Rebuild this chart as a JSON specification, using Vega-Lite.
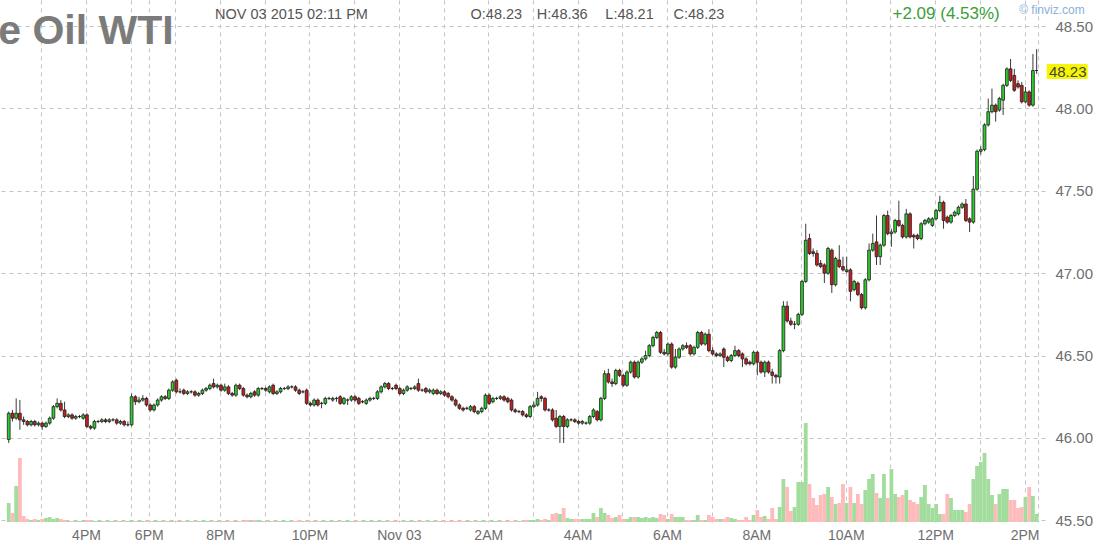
{
"$schema": "https://vega.github.io/schema/vega-lite/v6.json",
"width": 1045, "height": 522,
"autosize": "none",
"padding": {"left": 0, "top": 0, "right": 55, "bottom": 28},
"background": "white",
"config": {"view": {"stroke": null}, "font": "Liberation Sans"},
"data": {"values": [
{"i":1,"o":45.99,"h":46.16,"l":45.97,"c":46.15,"v":1900},
{"i":2,"o":46.15,"h":46.17,"l":46.10,"c":46.12,"v":900},
{"i":3,"o":46.12,"h":46.24,"l":46.11,"c":46.15,"v":3600},
{"i":4,"o":46.15,"h":46.23,"l":46.05,"c":46.11,"v":6400},
{"i":5,"o":46.11,"h":46.13,"l":46.08,"c":46.10,"v":600},
{"i":6,"o":46.10,"h":46.11,"l":46.07,"c":46.08,"v":300},
{"i":7,"o":46.08,"h":46.11,"l":46.07,"c":46.10,"v":200},
{"i":8,"o":46.10,"h":46.11,"l":46.07,"c":46.08,"v":300},
{"i":9,"o":46.08,"h":46.10,"l":46.07,"c":46.09,"v":200},
{"i":10,"o":46.09,"h":46.10,"l":46.05,"c":46.07,"v":300},
{"i":11,"o":46.07,"h":46.10,"l":46.06,"c":46.09,"v":400},
{"i":12,"o":46.09,"h":46.13,"l":46.08,"c":46.12,"v":500},
{"i":13,"o":46.12,"h":46.20,"l":46.11,"c":46.19,"v":300},
{"i":14,"o":46.19,"h":46.24,"l":46.18,"c":46.21,"v":400},
{"i":15,"o":46.21,"h":46.23,"l":46.16,"c":46.17,"v":300},
{"i":16,"o":46.17,"h":46.22,"l":46.12,"c":46.13,"v":200},
{"i":17,"o":46.13,"h":46.15,"l":46.12,"c":46.14,"v":100},
{"i":18,"o":46.14,"h":46.15,"l":46.11,"c":46.12,"v":100},
{"i":19,"o":46.12,"h":46.14,"l":46.11,"c":46.13,"v":100},
{"i":20,"o":46.13,"h":46.14,"l":46.12,"c":46.13,"v":100},
{"i":21,"o":46.12,"h":46.15,"l":46.11,"c":46.14,"v":100},
{"i":22,"o":46.14,"h":46.15,"l":46.06,"c":46.07,"v":200},
{"i":23,"o":46.07,"h":46.08,"l":46.05,"c":46.06,"v":200},
{"i":24,"o":46.06,"h":46.11,"l":46.05,"c":46.10,"v":100},
{"i":25,"o":46.10,"h":46.11,"l":46.09,"c":46.10,"v":100},
{"i":26,"o":46.10,"h":46.12,"l":46.09,"c":46.11,"v":100},
{"i":27,"o":46.11,"h":46.12,"l":46.09,"c":46.10,"v":100},
{"i":28,"o":46.10,"h":46.12,"l":46.09,"c":46.11,"v":100},
{"i":29,"o":46.11,"h":46.12,"l":46.10,"c":46.11,"v":100},
{"i":30,"o":46.11,"h":46.12,"l":46.08,"c":46.09,"v":100},
{"i":31,"o":46.09,"h":46.11,"l":46.08,"c":46.10,"v":100},
{"i":32,"o":46.10,"h":46.11,"l":46.07,"c":46.08,"v":100},
{"i":33,"o":46.08,"h":46.10,"l":46.07,"c":46.08,"v":100},
{"i":34,"o":46.08,"h":46.27,"l":46.07,"c":46.25,"v":200},
{"i":35,"o":46.25,"h":46.26,"l":46.20,"c":46.22,"v":100},
{"i":36,"o":46.22,"h":46.25,"l":46.21,"c":46.23,"v":100},
{"i":37,"o":46.23,"h":46.26,"l":46.22,"c":46.24,"v":100},
{"i":38,"o":46.24,"h":46.25,"l":46.19,"c":46.20,"v":100},
{"i":39,"o":46.20,"h":46.21,"l":46.16,"c":46.17,"v":100},
{"i":40,"o":46.17,"h":46.21,"l":46.16,"c":46.20,"v":100},
{"i":41,"o":46.20,"h":46.24,"l":46.19,"c":46.23,"v":100},
{"i":42,"o":46.23,"h":46.26,"l":46.22,"c":46.25,"v":100},
{"i":43,"o":46.25,"h":46.26,"l":46.23,"c":46.24,"v":100},
{"i":44,"o":46.24,"h":46.30,"l":46.23,"c":46.29,"v":100},
{"i":45,"o":46.29,"h":46.35,"l":46.28,"c":46.34,"v":100},
{"i":46,"o":46.35,"h":46.36,"l":46.27,"c":46.28,"v":100},
{"i":47,"o":46.28,"h":46.30,"l":46.27,"c":46.28,"v":100},
{"i":48,"o":46.29,"h":46.30,"l":46.26,"c":46.27,"v":100},
{"i":49,"o":46.27,"h":46.29,"l":46.26,"c":46.28,"v":100},
{"i":50,"o":46.28,"h":46.29,"l":46.27,"c":46.28,"v":100},
{"i":51,"o":46.28,"h":46.29,"l":46.25,"c":46.26,"v":100},
{"i":52,"o":46.26,"h":46.28,"l":46.25,"c":46.27,"v":100},
{"i":53,"o":46.27,"h":46.30,"l":46.26,"c":46.29,"v":100},
{"i":54,"o":46.29,"h":46.31,"l":46.28,"c":46.30,"v":100},
{"i":55,"o":46.30,"h":46.33,"l":46.29,"c":46.32,"v":100},
{"i":56,"o":46.33,"h":46.36,"l":46.30,"c":46.31,"v":100},
{"i":57,"o":46.31,"h":46.33,"l":46.30,"c":46.32,"v":100},
{"i":58,"o":46.32,"h":46.33,"l":46.28,"c":46.29,"v":100},
{"i":59,"o":46.29,"h":46.33,"l":46.28,"c":46.31,"v":100},
{"i":60,"o":46.31,"h":46.32,"l":46.26,"c":46.27,"v":100},
{"i":61,"o":46.27,"h":46.28,"l":46.25,"c":46.26,"v":100},
{"i":62,"o":46.26,"h":46.33,"l":46.25,"c":46.32,"v":100},
{"i":63,"o":46.32,"h":46.33,"l":46.29,"c":46.30,"v":100},
{"i":64,"o":46.30,"h":46.31,"l":46.25,"c":46.26,"v":100},
{"i":65,"o":46.26,"h":46.27,"l":46.24,"c":46.25,"v":200},
{"i":66,"o":46.25,"h":46.28,"l":46.24,"c":46.27,"v":200},
{"i":67,"o":46.28,"h":46.29,"l":46.25,"c":46.26,"v":200},
{"i":68,"o":46.26,"h":46.31,"l":46.25,"c":46.30,"v":200},
{"i":69,"o":46.30,"h":46.31,"l":46.29,"c":46.30,"v":100},
{"i":70,"o":46.30,"h":46.31,"l":46.28,"c":46.29,"v":100},
{"i":71,"o":46.28,"h":46.32,"l":46.27,"c":46.31,"v":100},
{"i":72,"o":46.32,"h":46.33,"l":46.26,"c":46.27,"v":100},
{"i":73,"o":46.27,"h":46.29,"l":46.26,"c":46.28,"v":100},
{"i":74,"o":46.28,"h":46.31,"l":46.27,"c":46.30,"v":100},
{"i":75,"o":46.30,"h":46.31,"l":46.29,"c":46.30,"v":100},
{"i":76,"o":46.30,"h":46.32,"l":46.29,"c":46.31,"v":100},
{"i":77,"o":46.31,"h":46.32,"l":46.30,"c":46.31,"v":100},
{"i":78,"o":46.31,"h":46.32,"l":46.28,"c":46.29,"v":100},
{"i":79,"o":46.29,"h":46.30,"l":46.26,"c":46.27,"v":200},
{"i":80,"o":46.28,"h":46.29,"l":46.27,"c":46.28,"v":100},
{"i":81,"o":46.29,"h":46.30,"l":46.20,"c":46.21,"v":100},
{"i":82,"o":46.21,"h":46.22,"l":46.19,"c":46.20,"v":100},
{"i":83,"o":46.20,"h":46.24,"l":46.19,"c":46.23,"v":100},
{"i":84,"o":46.23,"h":46.24,"l":46.19,"c":46.20,"v":100},
{"i":85,"o":46.21,"h":46.22,"l":46.18,"c":46.21,"v":100},
{"i":86,"o":46.21,"h":46.25,"l":46.20,"c":46.24,"v":100},
{"i":87,"o":46.24,"h":46.25,"l":46.23,"c":46.24,"v":100},
{"i":88,"o":46.23,"h":46.25,"l":46.22,"c":46.24,"v":100},
{"i":89,"o":46.24,"h":46.25,"l":46.22,"c":46.24,"v":100},
{"i":90,"o":46.25,"h":46.26,"l":46.20,"c":46.21,"v":100},
{"i":91,"o":46.21,"h":46.25,"l":46.20,"c":46.24,"v":100},
{"i":92,"o":46.23,"h":46.24,"l":46.20,"c":46.23,"v":100},
{"i":93,"o":46.23,"h":46.26,"l":46.22,"c":46.25,"v":100},
{"i":94,"o":46.25,"h":46.26,"l":46.22,"c":46.23,"v":100},
{"i":95,"o":46.24,"h":46.25,"l":46.20,"c":46.21,"v":100},
{"i":96,"o":46.22,"h":46.23,"l":46.21,"c":46.22,"v":100},
{"i":97,"o":46.21,"h":46.24,"l":46.20,"c":46.23,"v":100},
{"i":98,"o":46.23,"h":46.25,"l":46.22,"c":46.24,"v":100},
{"i":99,"o":46.24,"h":46.25,"l":46.23,"c":46.24,"v":100},
{"i":100,"o":46.24,"h":46.29,"l":46.23,"c":46.28,"v":100},
{"i":101,"o":46.28,"h":46.32,"l":46.27,"c":46.31,"v":100},
{"i":102,"o":46.31,"h":46.34,"l":46.30,"c":46.33,"v":100},
{"i":103,"o":46.33,"h":46.34,"l":46.29,"c":46.30,"v":100},
{"i":104,"o":46.30,"h":46.31,"l":46.29,"c":46.30,"v":100},
{"i":105,"o":46.32,"h":46.33,"l":46.29,"c":46.30,"v":100},
{"i":106,"o":46.30,"h":46.31,"l":46.26,"c":46.27,"v":100},
{"i":107,"o":46.27,"h":46.30,"l":46.26,"c":46.29,"v":100},
{"i":108,"o":46.29,"h":46.32,"l":46.28,"c":46.31,"v":100},
{"i":109,"o":46.30,"h":46.31,"l":46.29,"c":46.30,"v":100},
{"i":110,"o":46.30,"h":46.32,"l":46.29,"c":46.31,"v":100},
{"i":111,"o":46.33,"h":46.36,"l":46.28,"c":46.29,"v":100},
{"i":112,"o":46.29,"h":46.30,"l":46.28,"c":46.29,"v":100},
{"i":113,"o":46.30,"h":46.31,"l":46.27,"c":46.28,"v":100},
{"i":114,"o":46.28,"h":46.30,"l":46.27,"c":46.29,"v":100},
{"i":115,"o":46.27,"h":46.30,"l":46.26,"c":46.29,"v":100},
{"i":116,"o":46.29,"h":46.30,"l":46.26,"c":46.27,"v":100},
{"i":117,"o":46.27,"h":46.29,"l":46.26,"c":46.28,"v":100},
{"i":118,"o":46.28,"h":46.29,"l":46.25,"c":46.26,"v":100},
{"i":119,"o":46.27,"h":46.28,"l":46.24,"c":46.25,"v":100},
{"i":120,"o":46.25,"h":46.26,"l":46.22,"c":46.23,"v":100},
{"i":121,"o":46.23,"h":46.24,"l":46.19,"c":46.20,"v":100},
{"i":122,"o":46.20,"h":46.21,"l":46.17,"c":46.18,"v":100},
{"i":123,"o":46.18,"h":46.19,"l":46.16,"c":46.17,"v":100},
{"i":124,"o":46.18,"h":46.19,"l":46.17,"c":46.18,"v":100},
{"i":125,"o":46.17,"h":46.20,"l":46.16,"c":46.19,"v":100},
{"i":126,"o":46.19,"h":46.20,"l":46.15,"c":46.16,"v":100},
{"i":127,"o":46.15,"h":46.17,"l":46.14,"c":46.16,"v":100},
{"i":128,"o":46.16,"h":46.19,"l":46.15,"c":46.18,"v":100},
{"i":129,"o":46.18,"h":46.27,"l":46.17,"c":46.26,"v":100},
{"i":130,"o":46.26,"h":46.27,"l":46.20,"c":46.21,"v":100},
{"i":131,"o":46.22,"h":46.25,"l":46.21,"c":46.24,"v":100},
{"i":132,"o":46.24,"h":46.25,"l":46.23,"c":46.24,"v":100},
{"i":133,"o":46.24,"h":46.26,"l":46.23,"c":46.25,"v":100},
{"i":134,"o":46.25,"h":46.26,"l":46.22,"c":46.23,"v":100},
{"i":135,"o":46.24,"h":46.25,"l":46.21,"c":46.22,"v":100},
{"i":136,"o":46.23,"h":46.24,"l":46.16,"c":46.17,"v":100},
{"i":137,"o":46.17,"h":46.18,"l":46.15,"c":46.16,"v":100},
{"i":138,"o":46.16,"h":46.17,"l":46.15,"c":46.16,"v":100},
{"i":139,"o":46.16,"h":46.17,"l":46.13,"c":46.14,"v":100},
{"i":140,"o":46.14,"h":46.15,"l":46.12,"c":46.13,"v":200},
{"i":141,"o":46.13,"h":46.20,"l":46.12,"c":46.19,"v":200},
{"i":142,"o":46.19,"h":46.22,"l":46.18,"c":46.20,"v":200},
{"i":143,"o":46.20,"h":46.28,"l":46.19,"c":46.24,"v":300},
{"i":144,"o":46.25,"h":46.26,"l":46.22,"c":46.24,"v":200},
{"i":145,"o":46.24,"h":46.25,"l":46.16,"c":46.17,"v":300},
{"i":146,"o":46.17,"h":46.18,"l":46.16,"c":46.17,"v":200},
{"i":147,"o":46.17,"h":46.18,"l":46.10,"c":46.11,"v":800},
{"i":148,"o":46.12,"h":46.17,"l":46.06,"c":46.07,"v":900},
{"i":149,"o":46.07,"h":46.14,"l":45.97,"c":46.13,"v":800},
{"i":150,"o":46.13,"h":46.14,"l":45.97,"c":46.07,"v":1400},
{"i":151,"o":46.07,"h":46.12,"l":46.06,"c":46.11,"v":400},
{"i":152,"o":46.11,"h":46.12,"l":46.10,"c":46.11,"v":300},
{"i":153,"o":46.11,"h":46.12,"l":46.09,"c":46.10,"v":300},
{"i":154,"o":46.10,"h":46.11,"l":46.08,"c":46.09,"v":300},
{"i":155,"o":46.09,"h":46.11,"l":46.08,"c":46.10,"v":300},
{"i":156,"o":46.09,"h":46.10,"l":46.08,"c":46.09,"v":300},
{"i":157,"o":46.09,"h":46.14,"l":46.08,"c":46.13,"v":300},
{"i":158,"o":46.13,"h":46.18,"l":46.12,"c":46.17,"v":900},
{"i":159,"o":46.16,"h":46.17,"l":46.10,"c":46.11,"v":500},
{"i":160,"o":46.11,"h":46.25,"l":46.10,"c":46.24,"v":1400},
{"i":161,"o":46.24,"h":46.41,"l":46.23,"c":46.39,"v":900},
{"i":162,"o":46.39,"h":46.42,"l":46.33,"c":46.34,"v":700},
{"i":163,"o":46.34,"h":46.36,"l":46.31,"c":46.33,"v":400},
{"i":164,"o":46.33,"h":46.42,"l":46.32,"c":46.41,"v":500},
{"i":165,"o":46.41,"h":46.42,"l":46.37,"c":46.38,"v":700},
{"i":166,"o":46.38,"h":46.39,"l":46.31,"c":46.32,"v":300},
{"i":167,"o":46.32,"h":46.41,"l":46.31,"c":46.40,"v":300},
{"i":168,"o":46.40,"h":46.47,"l":46.39,"c":46.46,"v":500},
{"i":169,"o":46.46,"h":46.47,"l":46.36,"c":46.37,"v":500},
{"i":170,"o":46.37,"h":46.47,"l":46.36,"c":46.46,"v":500},
{"i":171,"o":46.46,"h":46.49,"l":46.45,"c":46.48,"v":400},
{"i":172,"o":46.48,"h":46.53,"l":46.47,"c":46.50,"v":500},
{"i":173,"o":46.50,"h":46.57,"l":46.49,"c":46.56,"v":400},
{"i":174,"o":46.56,"h":46.62,"l":46.55,"c":46.61,"v":500},
{"i":175,"o":46.61,"h":46.65,"l":46.60,"c":46.64,"v":400},
{"i":176,"o":46.64,"h":46.65,"l":46.51,"c":46.52,"v":800},
{"i":177,"o":46.52,"h":46.54,"l":46.50,"c":46.51,"v":700},
{"i":178,"o":46.51,"h":46.58,"l":46.50,"c":46.57,"v":300},
{"i":179,"o":46.57,"h":46.58,"l":46.42,"c":46.43,"v":800},
{"i":180,"o":46.43,"h":46.54,"l":46.42,"c":46.49,"v":500},
{"i":181,"o":46.49,"h":46.55,"l":46.48,"c":46.54,"v":500},
{"i":182,"o":46.54,"h":46.57,"l":46.53,"c":46.56,"v":500},
{"i":183,"o":46.56,"h":46.58,"l":46.54,"c":46.55,"v":200},
{"i":184,"o":46.56,"h":46.57,"l":46.50,"c":46.51,"v":200},
{"i":185,"o":46.51,"h":46.56,"l":46.50,"c":46.55,"v":200},
{"i":186,"o":46.55,"h":46.65,"l":46.54,"c":46.64,"v":700},
{"i":187,"o":46.64,"h":46.65,"l":46.56,"c":46.57,"v":200},
{"i":188,"o":46.57,"h":46.64,"l":46.56,"c":46.63,"v":200},
{"i":189,"o":46.63,"h":46.66,"l":46.52,"c":46.53,"v":700},
{"i":190,"o":46.53,"h":46.55,"l":46.50,"c":46.51,"v":500},
{"i":191,"o":46.51,"h":46.52,"l":46.49,"c":46.50,"v":300},
{"i":192,"o":46.50,"h":46.52,"l":46.49,"c":46.51,"v":300},
{"i":193,"o":46.54,"h":46.55,"l":46.43,"c":46.49,"v":300},
{"i":194,"o":46.49,"h":46.50,"l":46.46,"c":46.47,"v":500},
{"i":195,"o":46.47,"h":46.51,"l":46.46,"c":46.50,"v":400},
{"i":196,"o":46.50,"h":46.56,"l":46.49,"c":46.53,"v":300},
{"i":197,"o":46.53,"h":46.54,"l":46.49,"c":46.50,"v":200},
{"i":198,"o":46.51,"h":46.52,"l":46.43,"c":46.48,"v":200},
{"i":199,"o":46.48,"h":46.49,"l":46.44,"c":46.45,"v":500},
{"i":200,"o":46.46,"h":46.47,"l":46.44,"c":46.45,"v":200},
{"i":201,"o":46.45,"h":46.53,"l":46.44,"c":46.52,"v":700},
{"i":202,"o":46.52,"h":46.53,"l":46.38,"c":46.46,"v":1200},
{"i":203,"o":46.46,"h":46.47,"l":46.39,"c":46.40,"v":500},
{"i":204,"o":46.40,"h":46.47,"l":46.37,"c":46.46,"v":600},
{"i":205,"o":46.46,"h":46.47,"l":46.39,"c":46.40,"v":300},
{"i":206,"o":46.40,"h":46.42,"l":46.33,"c":46.38,"v":1400},
{"i":207,"o":46.38,"h":46.39,"l":46.33,"c":46.37,"v":300},
{"i":208,"o":46.37,"h":46.54,"l":46.33,"c":46.53,"v":1500},
{"i":209,"o":46.53,"h":46.83,"l":46.52,"c":46.80,"v":4300},
{"i":210,"o":46.80,"h":46.83,"l":46.70,"c":46.71,"v":3500},
{"i":211,"o":46.71,"h":46.73,"l":46.68,"c":46.69,"v":1100},
{"i":212,"o":46.69,"h":46.71,"l":46.66,"c":46.69,"v":1500},
{"i":213,"o":46.69,"h":46.76,"l":46.68,"c":46.75,"v":4000},
{"i":214,"o":46.75,"h":46.96,"l":46.74,"c":46.95,"v":4000},
{"i":215,"o":46.95,"h":47.30,"l":46.94,"c":47.20,"v":9900},
{"i":216,"o":47.21,"h":47.24,"l":47.11,"c":47.12,"v":3800},
{"i":217,"o":47.13,"h":47.15,"l":47.10,"c":47.12,"v":2400},
{"i":218,"o":47.12,"h":47.14,"l":47.04,"c":47.05,"v":1700},
{"i":219,"o":47.06,"h":47.08,"l":47.03,"c":47.04,"v":2700},
{"i":220,"o":47.05,"h":47.06,"l":46.94,"c":47.00,"v":2800},
{"i":221,"o":47.00,"h":47.16,"l":46.99,"c":47.15,"v":3500},
{"i":222,"o":47.14,"h":47.15,"l":46.88,"c":46.93,"v":2500},
{"i":223,"o":46.93,"h":47.10,"l":46.92,"c":47.09,"v":1800},
{"i":224,"o":47.08,"h":47.17,"l":47.03,"c":47.04,"v":1900},
{"i":225,"o":47.04,"h":47.10,"l":47.01,"c":47.02,"v":3800},
{"i":226,"o":47.01,"h":47.10,"l":47.00,"c":47.02,"v":1900},
{"i":227,"o":47.02,"h":47.03,"l":46.83,"c":46.89,"v":3500},
{"i":228,"o":46.90,"h":46.96,"l":46.89,"c":46.95,"v":1900},
{"i":229,"o":46.94,"h":46.95,"l":46.86,"c":46.87,"v":2800},
{"i":230,"o":46.87,"h":46.88,"l":46.78,"c":46.79,"v":1800},
{"i":231,"o":46.79,"h":46.97,"l":46.78,"c":46.96,"v":3200},
{"i":232,"o":46.96,"h":47.18,"l":46.95,"c":47.14,"v":4300},
{"i":233,"o":47.14,"h":47.24,"l":47.13,"c":47.18,"v":4800},
{"i":234,"o":47.19,"h":47.35,"l":47.05,"c":47.10,"v":2900},
{"i":235,"o":47.10,"h":47.18,"l":47.05,"c":47.17,"v":2400},
{"i":236,"o":47.17,"h":47.36,"l":47.16,"c":47.35,"v":4800},
{"i":237,"o":47.35,"h":47.38,"l":47.23,"c":47.24,"v":2400},
{"i":238,"o":47.24,"h":47.27,"l":47.16,"c":47.25,"v":5300},
{"i":239,"o":47.25,"h":47.33,"l":47.24,"c":47.32,"v":2800},
{"i":240,"o":47.32,"h":47.44,"l":47.28,"c":47.29,"v":2500},
{"i":241,"o":47.29,"h":47.30,"l":47.21,"c":47.22,"v":2700},
{"i":242,"o":47.22,"h":47.39,"l":47.21,"c":47.36,"v":3200},
{"i":243,"o":47.36,"h":47.37,"l":47.21,"c":47.22,"v":2200},
{"i":244,"o":47.23,"h":47.24,"l":47.15,"c":47.22,"v":2000},
{"i":245,"o":47.23,"h":47.24,"l":47.20,"c":47.21,"v":1800},
{"i":246,"o":47.21,"h":47.31,"l":47.20,"c":47.30,"v":2500},
{"i":247,"o":47.30,"h":47.33,"l":47.29,"c":47.32,"v":3700},
{"i":248,"o":47.31,"h":47.34,"l":47.30,"c":47.33,"v":1800},
{"i":249,"o":47.29,"h":47.34,"l":47.28,"c":47.33,"v":1400},
{"i":250,"o":47.33,"h":47.39,"l":47.32,"c":47.38,"v":1800},
{"i":251,"o":47.38,"h":47.47,"l":47.37,"c":47.43,"v":800},
{"i":252,"o":47.43,"h":47.44,"l":47.27,"c":47.32,"v":800},
{"i":253,"o":47.34,"h":47.35,"l":47.30,"c":47.31,"v":2800},
{"i":254,"o":47.31,"h":47.36,"l":47.30,"c":47.35,"v":2400},
{"i":255,"o":47.35,"h":47.38,"l":47.34,"c":47.37,"v":1200},
{"i":256,"o":47.36,"h":47.41,"l":47.35,"c":47.40,"v":1200},
{"i":257,"o":47.40,"h":47.43,"l":47.39,"c":47.42,"v":1200},
{"i":258,"o":47.42,"h":47.45,"l":47.31,"c":47.32,"v":1000},
{"i":259,"o":47.33,"h":47.34,"l":47.25,"c":47.31,"v":1800},
{"i":260,"o":47.31,"h":47.59,"l":47.30,"c":47.51,"v":4300},
{"i":261,"o":47.51,"h":47.75,"l":47.50,"c":47.74,"v":5600},
{"i":262,"o":47.74,"h":47.77,"l":47.72,"c":47.75,"v":6000},
{"i":263,"o":47.75,"h":47.91,"l":47.74,"c":47.90,"v":6900},
{"i":264,"o":47.90,"h":48.06,"l":47.89,"c":47.98,"v":4300},
{"i":265,"o":47.98,"h":48.12,"l":47.97,"c":48.02,"v":2700},
{"i":266,"o":48.02,"h":48.03,"l":47.92,"c":47.98,"v":1800},
{"i":267,"o":47.99,"h":48.07,"l":47.98,"c":48.06,"v":2800},
{"i":268,"o":48.05,"h":48.15,"l":47.96,"c":48.14,"v":3300},
{"i":269,"o":48.14,"h":48.25,"l":48.13,"c":48.24,"v":3300},
{"i":270,"o":48.24,"h":48.30,"l":48.16,"c":48.17,"v":2200},
{"i":271,"o":48.20,"h":48.24,"l":48.10,"c":48.11,"v":2200},
{"i":272,"o":48.15,"h":48.17,"l":48.12,"c":48.13,"v":1400},
{"i":273,"o":48.14,"h":48.16,"l":48.03,"c":48.04,"v":1500},
{"i":274,"o":48.04,"h":48.13,"l":48.03,"c":48.10,"v":2500},
{"i":275,"o":48.10,"h":48.11,"l":48.01,"c":48.02,"v":3500},
{"i":276,"o":48.02,"h":48.33,"l":48.01,"c":48.23,"v":2600},
{"i":277,"o":48.23,"h":48.36,"l":48.21,"c":48.23,"v":800}
]},
"layer": [
 {
  "mark": {"type": "bar", "orient": "vertical", "size": 3.8},
  "encoding": {
   "x": {"field": "i", "type": "quantitative", "scale": {"domain": [0, 277.9], "nice": false, "zero": false},
    "axis": {"orient": "bottom", "title": null,
     "values": [-2.25, 9.75, 21.75, 33.75, 38.6, 45.75, 57.75, 69.75, 81.75, 93.75, 105.75, 117.75, 129.75, 141.75, 153.75, 165.75, 177.75, 189.75, 201.75, 213.75, 225.75, 237.75, 249.75, 261.75, 273.75, 277.4],
     "labelExpr": "datum.value == -2.25 ? '2PM' : datum.value == 21.75 ? '4PM' : datum.value == 38.6 ? '6PM' : datum.value == 57.75 ? '8PM' : datum.value == 81.75 ? '10PM' : datum.value == 105.75 ? 'Nov 03' : datum.value == 129.75 ? '2AM' : datum.value == 153.75 ? '4AM' : datum.value == 177.75 ? '6AM' : datum.value == 201.75 ? '8AM' : datum.value == 225.75 ? '10AM' : datum.value == 249.75 ? '12PM' : datum.value == 273.75 ? '2PM' : ''",
     "grid": true, "gridColor": "#c4c4c4", "gridDash": [4, 4], "gridWidth": 1,
     "domain": false, "ticks": false, "labelFlush": false, "labelOverlap": false, "labelBound": false,
     "labelFont": "Liberation Sans", "labelFontSize": 14, "labelColor": "#6e6e6e", "labelPadding": 6, "labelAlign": "center"}},
   "y": {"field": "v", "type": "quantitative", "scale": {"domain": [0, 52200], "nice": false}, "axis": null},
   "color": {"condition": {"test": "datum.c >= datum.o", "value": "#a3dd9e"}, "value": "#ffbabc"}
  }
 },
 {
  "layer": [
   {
    "mark": {"type": "rule", "color": "#3a3a3a", "strokeWidth": 1},
    "encoding": {
     "x": {"field": "i", "type": "quantitative"},
     "y": {"field": "l", "type": "quantitative", "scale": {"domain": [45.49, 48.658], "nice": false, "zero": false},
      "axis": {"orient": "right", "title": null, "values": [45.5, 46, 46.5, 47, 47.5, 48, 48.5], "format": ".2f",
       "grid": true, "gridColor": "#c4c4c4", "gridDash": [4, 4], "gridWidth": 1,
       "domain": false, "ticks": false, "labelFont": "Liberation Sans", "labelFontSize": 15, "labelColor": "#6e6e6e",
       "labelPadding": 10, "labelAlign": "left", "labelBaseline": "middle", "labelFlush": false, "labelOverlap": false}},
     "y2": {"field": "h"}
    }
   },
   {
    "mark": {"type": "bar", "size": 2.8, "stroke": "#1e1e1e", "strokeWidth": 0.8},
    "encoding": {
     "x": {"field": "i", "type": "quantitative"},
     "y": {"field": "o", "type": "quantitative"},
     "y2": {"field": "c"},
     "fill": {"condition": {"test": "datum.c >= datum.o", "value": "#2fcc2f"}, "value": "#c81e1e"}
    }
   },
   {
    "data": {"values": [{}]},
    "mark": {"type": "text", "text": "Crude Oil WTI", "align": "left", "baseline": "alphabetic", "font": "Liberation Sans", "fontSize": 41, "fontWeight": "bold", "color": "#7b7b7b"},
    "encoding": {"x": {"datum": -27.5, "type": "quantitative"}, "y": {"datum": 48.391, "type": "quantitative"}}
   },
   {
    "data": {"values": [{}]},
    "mark": {"type": "text", "text": "NOV 03 2015 02:11 PM", "align": "left", "baseline": "alphabetic", "font": "Liberation Sans", "fontSize": 14.5, "color": "#555555"},
    "encoding": {"x": {"datum": 56.4, "type": "quantitative"}, "y": {"datum": 48.542, "type": "quantitative"}}
   },
   {
    "data": {"values": [{}]},
    "mark": {"type": "text", "text": "O:48.23", "align": "left", "baseline": "alphabetic", "font": "Liberation Sans", "fontSize": 14.5, "color": "#555555"},
    "encoding": {"x": {"datum": 125.0, "type": "quantitative"}, "y": {"datum": 48.542, "type": "quantitative"}}
   },
   {
    "data": {"values": [{}]},
    "mark": {"type": "text", "text": "H:48.36", "align": "left", "baseline": "alphabetic", "font": "Liberation Sans", "fontSize": 14.5, "color": "#555555"},
    "encoding": {"x": {"datum": 142.8, "type": "quantitative"}, "y": {"datum": 48.542, "type": "quantitative"}}
   },
   {
    "data": {"values": [{}]},
    "mark": {"type": "text", "text": "L:48.21", "align": "left", "baseline": "alphabetic", "font": "Liberation Sans", "fontSize": 14.5, "color": "#555555"},
    "encoding": {"x": {"datum": 161.2, "type": "quantitative"}, "y": {"datum": 48.542, "type": "quantitative"}}
   },
   {
    "data": {"values": [{}]},
    "mark": {"type": "text", "text": "C:48.23", "align": "left", "baseline": "alphabetic", "font": "Liberation Sans", "fontSize": 14.5, "color": "#555555"},
    "encoding": {"x": {"datum": 179.5, "type": "quantitative"}, "y": {"datum": 48.542, "type": "quantitative"}}
   },
   {
    "data": {"values": [{}]},
    "mark": {"type": "text", "text": "+2.09 (4.53%)", "align": "left", "baseline": "alphabetic", "font": "Liberation Sans", "fontSize": 17, "color": "#3a9e3a"},
    "encoding": {"x": {"datum": 238.3, "type": "quantitative"}, "y": {"datum": 48.545, "type": "quantitative"}}
   },
   {
    "data": {"values": [{}]},
    "mark": {"type": "text", "text": "© finviz.com", "align": "left", "baseline": "alphabetic", "font": "Liberation Sans", "fontSize": 12, "color": "#8ab0d6"},
    "encoding": {"x": {"datum": 272.3, "type": "quantitative"}, "y": {"datum": 48.573, "type": "quantitative"}}
   },
   {
    "data": {"values": [{}]},
    "mark": {"type": "rect", "color": "#f6f600"},
    "encoding": {"x": {"datum": 279.7, "type": "quantitative"}, "x2": {"datum": 290.7}, "y": {"datum": 48.269, "type": "quantitative"}, "y2": {"datum": 48.178}}
   },
   {
    "data": {"values": [{}]},
    "mark": {"type": "text", "text": "48.23", "align": "left", "baseline": "middle", "font": "Liberation Sans", "fontSize": 15, "color": "#444444"},
    "encoding": {"x": {"datum": 280.3, "type": "quantitative"}, "y": {"datum": 48.224, "type": "quantitative"}}
   }
  ]
 }
],
"resolve": {"scale": {"y": "independent"}}
}
